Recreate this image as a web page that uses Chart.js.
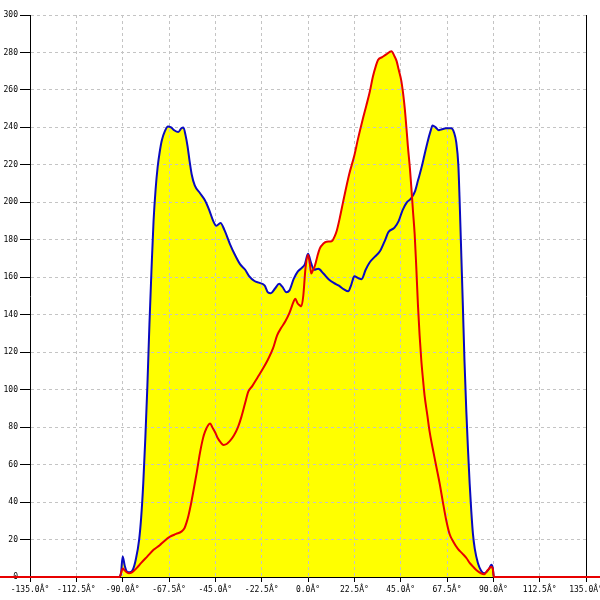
<!DOCTYPE html>
<html>
<head>
<meta charset="utf-8">
<style>
  html, body { margin: 0; padding: 0; background: #fff; }
  canvas { display: block; }
</style>
<script src="https://cdn.jsdelivr.net/npm/chart.js@4/dist/chart.umd.min.js"></script>
</head>
<body>
<canvas id="chart" width="600" height="600"></canvas>
<script>
(function () {
  "use strict";

  const BLUE = "#0a0ac0";
  const RED = "#e80000";
  const YELLOW = "#ffff00";
  const GRID = "#c4c4c4";
  const FONT = { family: "DejaVu Sans Mono", size: 8 };

  // angle ticks (degrees) and y ticks
  const X_MIN = -135, X_MAX = 135, X_STEP = 22.5;
  const Y_MIN = 0, Y_MAX = 300, Y_STEP = 20;

  // blue series: angle / value
  const BLUE_DEG = [-91.5, -90.8, -90, -89, -88, -86.5, -85, -83.5, -82, -81, -80, -79, -78, -77, -76, -75,
    -74, -73, -72, -71, -69.5, -68, -66.5, -65, -63, -61.5, -60.5, -59.5, -58.5, -57.5, -56.5, -55,
    -52.5, -50, -48, -46, -44.5, -42.5, -40.5, -38, -35.5, -33, -30.5, -28.5, -26, -23.5, -21, -19.5,
    -18, -16, -14, -12.5, -10.5, -9, -7, -5, -3, -1.5, 0, 1.5, 3, 5, 7.5, 10, 12.5, 15, 17.5, 19.5,
    21, 22.5, 24.5, 26, 28, 30, 32.5, 35, 37.5, 39, 42, 44, 46, 48, 50, 52, 53.5, 55, 56.5, 58, 59.5,
    60.5, 62, 63.5, 65, 67, 69.5, 71, 72, 73, 73.6, 74.5, 75.2, 76, 76.9, 77.7, 78.5, 79.3, 80.1, 81,
    82.5, 84, 85.5, 87, 88, 89, 89.7, 90.2];
  const BLUE_VAL = [0, 2, 11, 6, 3, 2.5, 4, 10, 20, 32, 50, 74, 102, 135, 164, 190,
    207, 219, 227, 233, 238, 240.5, 240, 238.5, 237.5, 239.5, 240, 236, 230, 222, 215, 209,
    205, 201, 196, 190, 187.5, 189, 185, 178, 172, 167, 164, 160.5, 158, 157, 155.5, 152,
    151.5, 154, 156.5, 155, 152, 153, 159, 163, 165, 167, 172.5, 167.5, 164, 164.5, 162, 159, 157, 155.5, 153.5, 152.5,
    156, 160.5, 159.5, 159, 164, 168, 171, 174, 180, 184, 186.5, 190, 196, 200, 202, 206, 212, 218, 225, 232, 238,
    241, 240, 238.5, 239, 239.5, 239.5, 237, 232, 220, 202, 170, 145, 115, 88, 68, 50, 35, 23, 15,
    7.5, 3.5, 2, 3, 4.5, 6.5, 5, 0];

  // red series: angle / value (runs along zero past both ends)
  const RED_DEG = [-160, -91.5, -90.8, -90, -89, -87, -85.5, -83, -81, -78, -75, -72, -70, -67, -64, -61.5,
    -60, -59, -58, -57, -55.8, -54, -52.5, -51, -50, -48.5, -47.5, -46.5, -45, -44, -42.5, -41,
    -39.5, -38, -36, -34, -32.3, -30.5, -29, -27, -24.5, -22, -19.5, -17, -15, -13, -11, -9, -7,
    -6.2, -5, -4, -3.2, -2.3, -1.2, 0, 0.8, 1.6, 2.5, 3.3, 4.5, 5.7, 7.5, 9, 11.5, 13, 14, 15.5, 17,
    20, 22.5, 24.3, 26.5, 28.3, 30, 31.5, 33, 34, 36, 38, 40.5, 42, 43, 44, 45.3, 46.2, 47, 48, 48.5,
    49.5, 50.2, 51, 51.8, 52.6, 53.4, 54.2, 55, 55.8, 56.6, 58, 59, 60.5, 62.3, 64, 65.5, 67, 68.8,
    70.5, 72.8, 75, 77, 78.5, 80, 82, 84, 85.5, 87.3, 89, 89.7, 90.3, 150];
  const RED_VAL = [0, 0, 2, 4.5, 3.5, 2, 2.5, 5, 7.5, 11, 14.5, 17, 19, 21.5, 23, 24.2,
    26, 29, 33, 38, 45, 56, 66, 74, 77.6, 81, 82, 80, 77, 74.5, 72, 70.5,
    71, 72.5, 75.5, 80, 85.6, 93, 99, 102, 106.5, 111, 116, 122, 129, 133, 136.5, 141, 147,
    148.5, 146, 145, 144.5, 150, 165, 172, 168, 162, 164, 166, 171, 175.3, 178, 179, 179.2, 182, 185, 192, 200,
    215, 225, 234, 244, 251.6, 259, 267, 273, 276, 277.5, 279, 280.6, 278, 275.5, 271, 265, 258, 250, 237, 230,
    218, 207.7, 195, 183, 165, 145, 129, 116, 106, 97, 86, 78, 69, 59, 49.5, 40, 31, 22.8,
    19, 15, 12.5, 10, 7.5, 5.7, 3.5, 2, 1.5, 3.7, 5.5, 4.5, 0, 0];

  function points(xs, ys) {
    return xs.map((x, i) => ({ x: x, y: ys[i] }));
  }

  new Chart(document.getElementById("chart"), {
    type: "line",
    data: {
      datasets: [
        {
          label: "red",
          data: points(RED_DEG, RED_VAL),
          borderColor: RED,
          backgroundColor: YELLOW,
          borderWidth: 2,
          fill: "origin",
          pointRadius: 0,
          cubicInterpolationMode: "monotone",
          clip: false
        },
        {
          label: "blue",
          data: points(BLUE_DEG, BLUE_VAL),
          borderColor: BLUE,
          backgroundColor: YELLOW,
          borderWidth: 2,
          fill: "origin",
          pointRadius: 0,
          cubicInterpolationMode: "monotone"
        }
      ]
    },
    options: {
      responsive: false,
      animation: false,
      layout: { padding: { top: 15, left: 0, right: 0, bottom: 0 } },
      plugins: {
        legend: { display: false },
        tooltip: { enabled: false },
        filler: { drawTime: "beforeDraw" }
      },
      scales: {
        x: {
          type: "linear",
          min: X_MIN,
          max: X_MAX,
          grid: { color: GRID, tickColor: "#000", tickLength: 5 },
          border: { color: "#000", dash: [3, 3] },
          ticks: {
            stepSize: X_STEP,
            autoSkip: false,
            maxRotation: 0,
            padding: 3,
            color: "#000",
            font: FONT,
            callback: (v) => v.toFixed(1) + "\u00C2\u00B0"
          },
          afterFit: (s) => { s.height = 23; s.paddingLeft = 0; s.paddingRight = 0; }
        },
        y: {
          min: Y_MIN,
          max: Y_MAX,
          grid: { color: GRID, tickColor: "#000", tickLength: 10 },
          border: { color: "#000", dash: [3, 3] },
          ticks: { stepSize: Y_STEP, padding: 2, color: "#000", font: FONT },
          afterFit: (s) => { s.width = 30; s.paddingTop = 0; s.paddingBottom = 0; }
        },
        y2: {
          position: "right",
          min: Y_MIN,
          max: Y_MAX,
          grid: { display: false },
          border: { color: "#000" },
          ticks: { display: false },
          afterFit: (s) => { s.width = 14; }
        }
      }
    }
  });
})();
</script>
</body>
</html>
